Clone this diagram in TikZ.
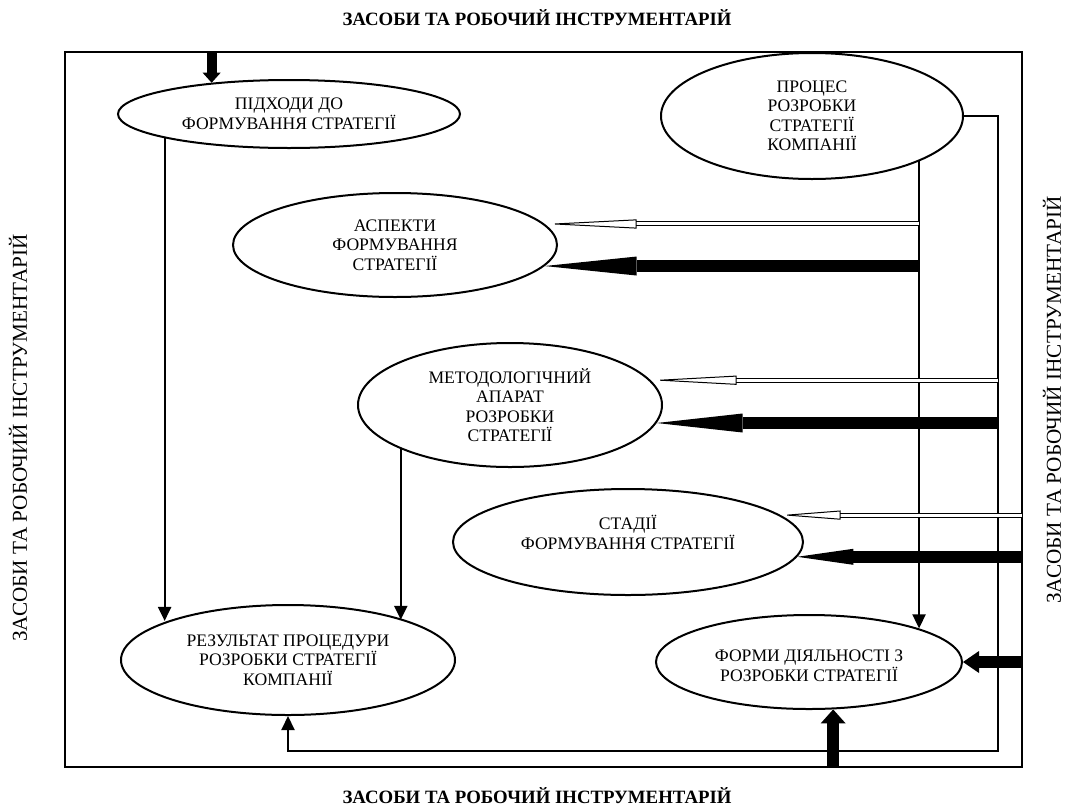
\documentclass[tikz,border=0pt]{standalone}
\usepackage{fontspec}
\setmainfont{Liberation Serif}
\usetikzlibrary{arrows.meta,shapes.geometric,calc}
\tikzstyle{eS}=[ellipse,draw,line width=1pt,inner sep=0pt,align=center,font=\fontsize{8.8}{9.75}\selectfont]
\tikzstyle{tS}=[font=\bfseries\fontsize{9.4}{11}\selectfont]
\tikzstyle{sS}=[rotate=90,font=\fontsize{10.6}{12}\selectfont]
\tikzstyle{eLine}=[line width=1pt]
\tikzstyle{eThin}=[line width=1.1pt,-{Triangle[length=7pt,width=6.5pt]}]
\tikzstyle{eFat}=[line width=6pt,-{Triangle[length=8pt,width=11pt,line width=0pt]}]
\tikzset{
  eLong/.style={line width=6pt,-{Triangle[length=#1,width=9.5pt,line width=0pt]}},
  eHollow/.style={double,line width=0.5pt,double distance=1.5pt,-{Triangle[open,length=#1,width=4.5pt]}},
}

\begin{document}
\begin{tikzpicture}[x=0.5pt,y=-0.5pt]
    \useasboundingbox (0,0) rectangle (1070,809);
    % labels round the frame
    \draw (537,18) node[tS] (tTop) {ЗАСОБИ ТА РОБОЧИЙ ІНСТРУМЕНТАРІЙ};
    \draw (537,796) node[tS] (tBot) {ЗАСОБИ ТА РОБОЧИЙ ІНСТРУМЕНТАРІЙ};
    \draw (18,438) node[sS] (tLeft) {ЗАСОБИ ТА РОБОЧИЙ ІНСТРУМЕНТАРІЙ};
    \draw (1052,400) node[sS] (tRight) {ЗАСОБИ ТА РОБОЧИЙ ІНСТРУМЕНТАРІЙ};
    % frame
    \draw[eLine] (65,52) coordinate (fNW) rectangle (1022,767) coordinate (fSE);
    % ellipses
    \draw (289,114) node[eS,minimum width=171pt,minimum height=34pt] (app) {ПІДХОДИ ДО\\ФОРМУВАННЯ СТРАТЕГІЇ};
    \draw (812,116) node[eS,minimum width=151pt,minimum height=63pt] (proc) {ПРОЦЕС\\РОЗРОБКИ\\СТРАТЕГІЇ\\КОМПАНІЇ};
    \draw (395,245) node[eS,minimum width=162pt,minimum height=52pt] (asp) {АСПЕКТИ\\ФОРМУВАННЯ\\СТРАТЕГІЇ};
    \draw (510,405) node[eS,minimum width=152pt,minimum height=62pt] (met) {МЕТОДОЛОГІЧНИЙ\\АПАРАТ\\РОЗРОБКИ\\СТРАТЕГІЇ};
    \draw (628,542) node[eS,minimum width=175pt,minimum height=53pt] (sta) {СТАДІЇ\\ФОРМУВАННЯ СТРАТЕГІЇ\\\mbox{}};
    \draw (288,660) node[eS,minimum width=167pt,minimum height=55pt] (res) {РЕЗУЛЬТАТ ПРОЦЕДУРИ\\РОЗРОБКИ СТРАТЕГІЇ\\КОМПАНІЇ};
    \draw (809,662) node[eS,minimum width=153pt,minimum height=47pt] (frm) {\mbox{}\\ФОРМИ ДІЯЛЬНОСТІ З\\РОЗРОБКИ СТРАТЕГІЇ};
    \coordinate (bend) at (998,751);
    % thin connectors
    \draw[eThin] (app.191) -- (res.162 -| app.191);
    \draw[eThin] (met.202) -- (res.19 -| met.202);
    \draw[eThin] (proc.-23) -- (frm.17 -| proc.-23);
    \draw[eThin] (proc.east) -| (bend) -| (res.south);
    % hollow and thick arrows from the right
    \draw[eHollow=46pt] (asp.8 -| proc.-23) -- (asp.8);
    \draw[eLong=46pt] (asp.-8 -| proc.-23) -- (asp.-8);
    \draw[eHollow=43pt] (met.10 -| bend) -- (met.10);
    \draw[eLong=43pt] (met.-7 -| bend) -- (met.-7);
    \draw[eHollow=30pt] (sta.10 -| fSE) -- (sta.10);
    \draw[eLong=28pt,-{Triangle[length=28pt,width=8pt,line width=0pt]}] (sta.-5 -| fSE) -- (sta.-5);
    \draw[eFat] (frm.east -| fSE) -- (frm.east);
    % short thick arrows through the frame
    \draw[eFat,line width=5pt,-{Triangle[length=5pt,width=9pt,line width=0pt]}] (app.158 |- fNW) -- (app.158);
    \draw[eFat,-{Triangle[length=7pt,width=12.5pt,line width=0pt]}] (frm.-63 |- fSE) -- (frm.-63);
\end{tikzpicture}
\end{document}
